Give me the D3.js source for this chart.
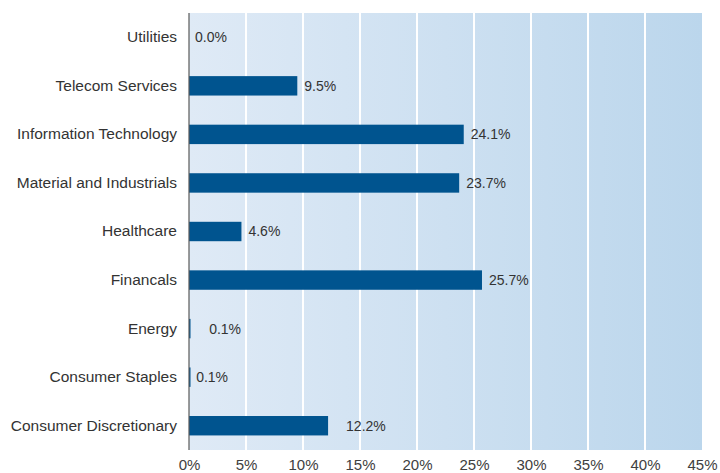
<!DOCTYPE html>
<html><head><meta charset="utf-8">
<script src="https://cdn.jsdelivr.net/npm/d3@7"></script>
<style>body{margin:0;background:#fff;font-family:"Liberation Sans",Arial,sans-serif}</style>
</head><body><svg id="c" width="720" height="473"></svg>
<script>
const categories = ["Utilities","Telecom Services","Information Technology","Material and Industrials","Healthcare","Financals","Energy","Consumer Staples","Consumer Discretionary"];
const values = [0.0, 9.5, 24.1, 23.7, 4.6, 25.7, 0.1, 0.1, 12.2];
const valueLabels = ["0.0%","9.5%","24.1%","23.7%","4.6%","25.7%","0.1%","0.1%","12.2%"];
const xTicks = [0,5,10,15,20,25,30,35,40,45];
const labelNudge = [6,7,7,7,7,7,19,6,18];

const svg = d3.select("#c");
const m = {l:189, r:18, t:13, b:23};
const W = 720, H = 473;
const x = d3.scaleLinear().domain([0,45]).range([m.l, W-m.r]);
const y = d3.scaleBand().domain(categories).range([m.t, H-m.b]).paddingInner(0.6).paddingOuter(0.3);

const defs = svg.append("defs");
const g = defs.append("linearGradient").attr("id","bg").attr("x1","0").attr("x2","1").attr("y1","0").attr("y2","0");
g.append("stop").attr("offset","0").attr("stop-color","#dfeaf6");
g.append("stop").attr("offset","1").attr("stop-color","#bbd6ec");

svg.append("rect").attr("x",x(0)).attr("y",m.t).attr("width",x(45)-x(0)).attr("height",H-m.b-m.t).attr("fill","url(#bg)");

svg.append("g").selectAll("line").data(xTicks.slice(1,-1)).join("line")
  .attr("x1",d=>x(d)).attr("x2",d=>x(d)).attr("y1",m.t).attr("y2",H-m.b)
  .attr("stroke","#fff").attr("stroke-width",2);

svg.append("g").selectAll("rect").data(values).join("rect")
  .attr("x",x(0)).attr("y",(d,i)=>y(categories[i]))
  .attr("width",d=>Math.max(x(d)-x(0), d>0?1.5:0)).attr("height",y.bandwidth())
  .attr("fill","#00548f");

svg.append("g").selectAll("text").data(values).join("text")
  .attr("x",(d,i)=>x(d)+labelNudge[i]).attr("y",(d,i)=>y(categories[i])+y.bandwidth()/2)
  .attr("dy","0.35em").attr("font-size",14).attr("fill","#333")
  .text((d,i)=>valueLabels[i]);

const ya = svg.append("g").attr("transform",`translate(${x(0)},0)`)
  .call(d3.axisLeft(y).tickSize(0).tickPadding(12));
ya.select(".domain").attr("stroke","#595959").attr("stroke-width",1.2).attr("d",`M0,${m.t}V${H-m.b}`);
ya.selectAll("text").attr("font-size",15.5).attr("fill","#333").attr("font-family","Liberation Sans, Arial, sans-serif");

const xa = svg.append("g").attr("transform",`translate(0,${H-m.b})`)
  .call(d3.axisBottom(x).tickValues(xTicks).tickFormat(d=>d+"%").tickSize(0).tickPadding(9));
xa.select(".domain").remove();
xa.selectAll("text").attr("font-size",15).attr("fill","#404040").attr("font-family","Liberation Sans, Arial, sans-serif");
</script></body></html>
